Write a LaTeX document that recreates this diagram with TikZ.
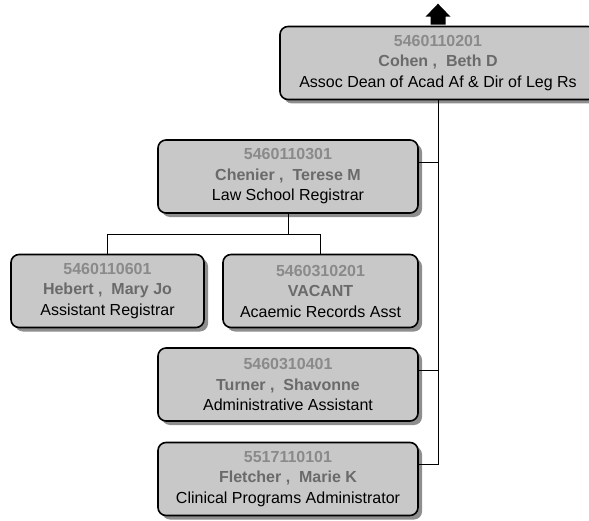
\documentclass[tikz,border=0pt]{standalone}
\usepackage{fontspec}
\setmainfont{Liberation Sans}
\usetikzlibrary{calc,shadows}
\definecolor{boxfill}{HTML}{C8C8C8}
\definecolor{boxshadow}{HTML}{8E8E8E}
\definecolor{numgray}{HTML}{8A8A8A}
\definecolor{namegray}{HTML}{6A6A6A}
\newcommand{\posbox}[3]{{\color{numgray}\bfseries #1}\\{\color{namegray}\bfseries #2}\\#3}
\tikzset{
  posnode/.style={draw=black, line width=1.6bp, fill=boxfill, rounded corners=8bp,
    minimum height=73bp, inner sep=0pt, align=center,
    font=\fontsize{16bp}{20.5bp}\selectfont,
    drop shadow={shadow xshift=4bp, shadow yshift=-4bp, fill=boxshadow, opacity=1}},
  link/.style={draw=black, line width=1bp}
}
\begin{document}
\begin{tikzpicture}[x=1bp,y=-1bp]
\clip (0,0) rectangle (589,521);
% positions
\node[posnode, minimum width=316bp] (cohen) at (438,63)
  {\posbox{5460110201}{Cohen ,~ Beth D}{Assoc Dean of Acad Af \& Dir of Leg Rs}};
\node[posnode, minimum width=260bp] (chenier) at (288,176.5)
  {\posbox{5460110301}{Chenier ,~ Terese M}{Law School Registrar}};
\node[posnode, minimum width=193bp] (hebert) at (107.5,291)
  {\posbox{5460110601}{Hebert ,~ Mary Jo}{Assistant Registrar}};
\node[posnode, minimum width=195bp] (vacant) at (320.5,291)
  {\posbox{5460310201}{VACANT}{Acaemic Records Asst}};
\node[posnode, minimum width=260bp] (turner) at (288,384.5)
  {\posbox{5460310401}{Turner ,~ Shavonne}{Administrative Assistant}};
\node[posnode, minimum width=260bp] (fletcher) at (288,479)
  {\posbox{5517110101}{Fletcher ,~ Marie K}{Clinical Programs Administrator}};
% attachment points on the right edges of the staff boxes
\coordinate (aChenier) at ($(chenier.north east)+(0,23)$);
\coordinate (aTurner) at ($(turner.north east)+(0,23)$);
\coordinate (aFletcher) at ($(fletcher.north east)+(0,23)$);
% trunk and branches
\draw[link] (cohen.south) -- (cohen.south |- aFletcher) -- (aFletcher);
\draw[link] (aChenier) -- (aChenier -| cohen.south);
\draw[link] (aTurner) -- (aTurner -| cohen.south);
\coordinate (bus) at ($(chenier.south)+(0,21)$);
\draw[link] (chenier.south) -- (bus);
\draw[link] (hebert.north) -- (hebert.north |- bus) -- (vacant.north |- bus) -- (vacant.north);
% upward arrow above the top box
\fill[black] ($(cohen.north)+(-7.5,-1)$) -- ($(cohen.north)+(-7.5,-9)$)
  -- ($(cohen.north)+(-12.5,-9)$) -- ($(cohen.north)+(0,-22)$)
  -- ($(cohen.north)+(12.5,-9)$) -- ($(cohen.north)+(7.5,-9)$)
  -- ($(cohen.north)+(7.5,-1)$) -- cycle;
\end{tikzpicture}
\end{document}
